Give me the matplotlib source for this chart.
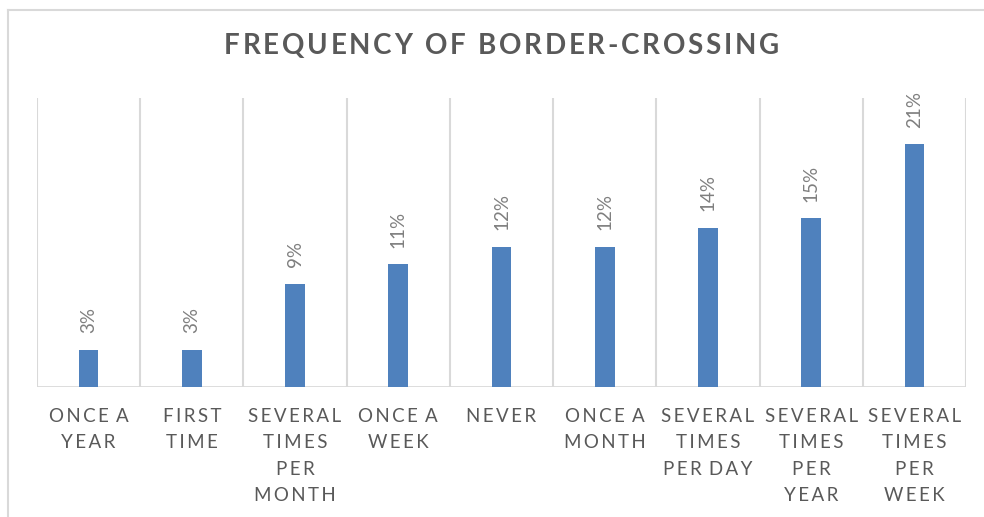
import matplotlib
matplotlib.use("Agg")
import matplotlib.pyplot as plt
from matplotlib.lines import Line2D

categories = ["ONCE A\nYEAR", "FIRST\nTIME", "SEVERAL\nTIMES\nPER\nMONTH", "ONCE A\nWEEK",
              "NEVER", "ONCE A\nMONTH", "SEVERAL\nTIMES\nPER DAY", "SEVERAL\nTIMES\nPER\nYEAR",
              "SEVERAL\nTIMES\nPER\nWEEK"]
values = [3.2, 3.2, 8.9, 10.6, 12.1, 12.1, 13.75, 14.6, 21.0]
title = "FREQUENCY OF BORDER-CROSSING"

def spaced(s, sep="\u2009", wsep=" \u2009"):
    lines = []
    for line in s.split("\n"):
        words = [sep.join(list(w)) for w in line.split(" ")]
        lines.append(wsep.join(words))
    return "\n".join(lines)

fig = plt.figure(figsize=(9.84, 5.17), dpi=100)
W, H = 984, 517
ax = fig.add_axes([37 / W, 1 - 387 / H, (966 - 37) / W, (387 - 98) / H])

x = list(range(len(values)))
ax.bar(x, values, width=0.19, color="#4F81BD", zorder=3)
ax.set_xlim(-0.5, len(values) - 0.5)
ax.set_ylim(0, 25)

for i in range(len(values) + 1):
    ax.axvline(i - 0.5, color="#D9D9D9", lw=1.5, zorder=1)
ax.axhline(0, color="#D9D9D9", lw=2, zorder=2)

for s in ax.spines.values():
    s.set_visible(False)
ax.set_yticks([])
ax.set_xticks(x)
ax.set_xticklabels([spaced(c) for c in categories], fontfamily="Lato", fontsize=13.5,
                   color="#595959", linespacing=1.68, va="top")
ax.tick_params(axis="x", length=0, pad=15)

for xi, v in zip(x, values):
    ax.annotate(f"{int(v + 0.5)}%", (xi, v), xytext=(0, 12),
                textcoords="offset points", rotation=90, ha="center", va="bottom",
                fontfamily="Lato", fontsize=13.5, color="#7F7F7F")

# Title drawn with letter tracking
renderer = fig.canvas.get_renderer()
tkw = dict(fontfamily="Lato", fontweight="bold", fontsize=20, color="#595959", va="center")
widths = []
for ch in title:
    if ch == " ":
        t = fig.text(0, 0, "a a", **tkw)
        w1 = t.get_window_extent(renderer).width
        t.set_text("aa")
        w = w1 - t.get_window_extent(renderer).width
    else:
        t = fig.text(0, 0, ch, **tkw)
        w = t.get_window_extent(renderer).width
    t.remove()
    widths.append(w)
target_left, target_right = 224, 779
track = (target_right - target_left - sum(widths)) / (len(title) - 1)
xp = target_left
for ch, w in zip(title, widths):
    if ch != " ":
        fig.text(xp / W, 1 - 46 / H, ch, ha="left", **tkw)
    xp += w + track

fig.add_artist(Line2D([8 / W, 8 / W], [0, 1 - 10 / H], transform=fig.transFigure,
                      color="#D9D9D9", lw=1.5))
fig.add_artist(Line2D([8 / W, 1], [1 - 10 / H, 1 - 10 / H], transform=fig.transFigure,
                      color="#D9D9D9", lw=1.5))

fig.savefig("out.png", dpi=100)
